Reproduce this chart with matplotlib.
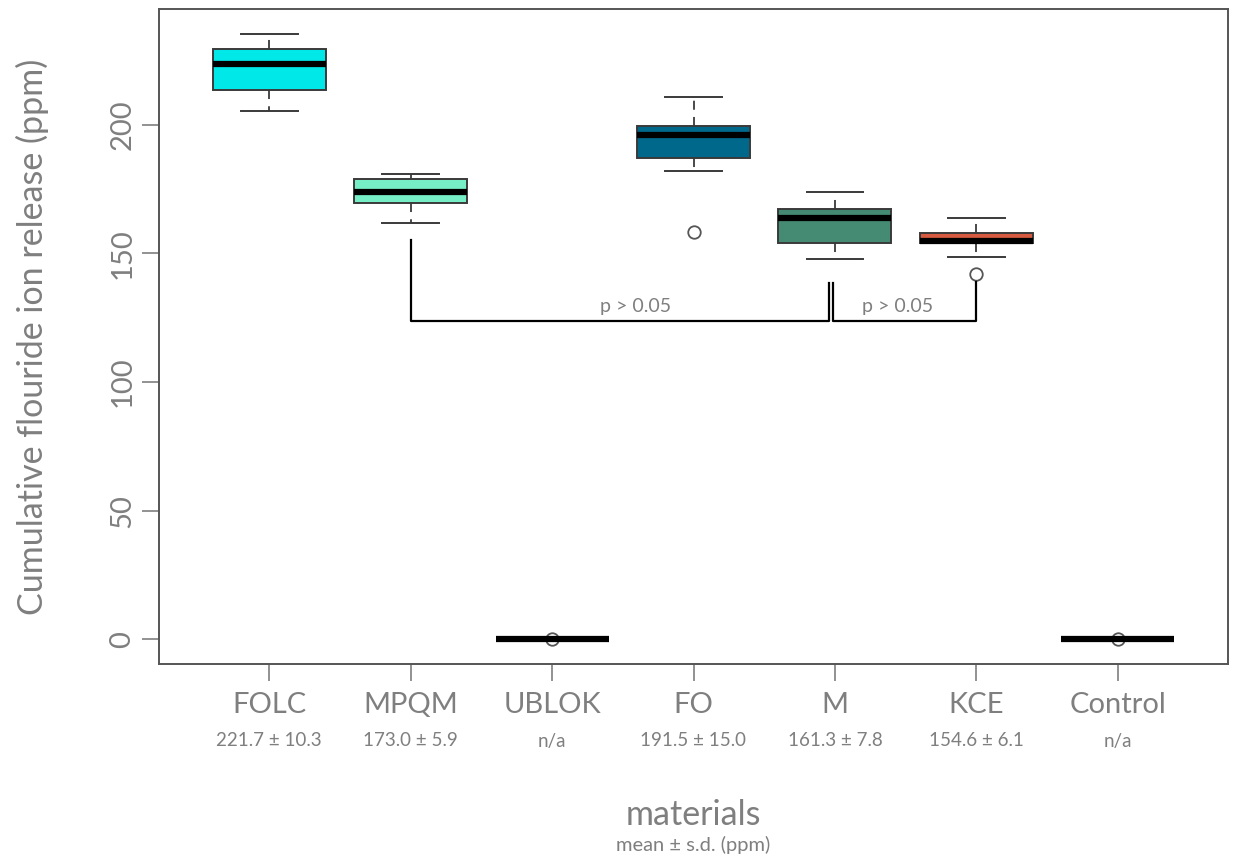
import matplotlib
matplotlib.use("Agg")
import matplotlib.pyplot as plt
import matplotlib.transforms as mtransforms

plt.rcParams['font.family'] = ['Lato', 'DejaVu Sans']

# ---- data ----
materials = ["FOLC", "MPQM", "UBLOK", "FO", "M", "KCE", "Control"]
summary = ["221.7 ± 10.3", "173.0 ± 5.9", "n/a", "191.5 ± 15.0", "161.3 ± 7.8", "154.6 ± 6.1", "n/a"]
medians = [223.6, 173.7, 0.0, 196.1, 163.8, 155.0, 0.0]
q1 = [213.6, 169.5, 0.0, 186.9, 154.0, 154.0, 0.0]
q3 = [229.6, 179.0, 0.0, 199.6, 167.2, 157.8, 0.0]
whisker_lo = [205.2, 161.7, 0.0, 182.1, 147.8, 148.5, 0.0]
whisker_hi = [235.4, 180.7, 0.0, 210.8, 173.7, 163.8, 0.0]
outliers = [[], [], [0.0], [158.2], [], [142.1], [0.3]]
colors = ["#00E8E8", "#76EEC6", "#FFFFFF", "#00688B", "#458B74", "#D65A40", "#FFFFFF"]
yticks = [0, 50, 100, 150, 200]
p_text = "p > 0.05"

gray = "#7F7F7F"
dark = "#3A3A3A"

fig = plt.figure(figsize=(12.34, 8.57), dpi=100)
ax = fig.add_axes([159/1234, 1 - 664/857, (1228-159)/1234, (664-9)/857])

positions = list(range(1, len(materials) + 1))
stats = []
for i in range(len(materials)):
    stats.append(dict(med=medians[i], q1=q1[i], q3=q3[i], whislo=whisker_lo[i],
                      whishi=whisker_hi[i], fliers=outliers[i], label=materials[i]))

bp = ax.bxp(stats, positions=positions, widths=0.8, patch_artist=True,
            showfliers=True,
            boxprops=dict(edgecolor=dark, linewidth=1.4),
            medianprops=dict(color="black", linewidth=4.5, solid_capstyle="butt"),
            whiskerprops=dict(color=dark, linewidth=1.3, linestyle=(0, (5, 4))),
            capprops=dict(color=dark, linewidth=1.4),
            capwidths=0.4,
            flierprops=dict(marker="o", markersize=9, markerfacecolor="white",
                            markeredgecolor="#555555", markeredgewidth=1.3))
for patch, c in zip(bp["boxes"], colors):
    patch.set_facecolor(c)

ax.set_xlim(0.22, 7.78)
ax.set_ylim(-9.6, 245)

# significance brackets
m_pos = positions[materials.index("M")]
mp_pos = positions[materials.index("MPQM")]
k_pos = positions[materials.index("KCE")]
br_y = 123.7
ax.plot([mp_pos, mp_pos, m_pos - 0.045, m_pos - 0.045], [155.3, br_y, br_y, 138.5],
        color="black", lw=1.6)
ax.plot([m_pos - 0.015, m_pos - 0.015, k_pos, k_pos], [138.5, br_y, br_y, 138.7],
        color="black", lw=1.6)
ax.text(3.59, 129.5, p_text, ha="center", va="center", fontsize=14, color=gray)
ax.text(5.44, 129.5, p_text, ha="center", va="center", fontsize=14, color=gray)

# axes styling
for s in ax.spines.values():
    s.set_color("#555555")
    s.set_linewidth(1.4)
ax.set_yticks(yticks)
ax.set_yticklabels([str(v) for v in yticks])
ax.tick_params(axis="y", length=12, width=1.2, color=gray, labelcolor=gray,
               labelsize=21, labelrotation=90, pad=5)
for lab in ax.get_yticklabels():
    lab.set_va("center")
ax.set_xticks(positions)
ax.set_xticklabels(materials)
ax.tick_params(axis="x", length=12, width=1.2, color=gray, labelcolor=gray,
               labelsize=21, pad=8)

trans = mtransforms.blended_transform_factory(ax.transData, ax.transAxes)
for p, s in zip(positions, summary):
    ax.annotate(s, xy=(p, 0), xycoords=trans, xytext=(0, -77 * 0.72),
                textcoords="offset points", ha="center", va="center",
                fontsize=13.5, color=gray)

ax.annotate("materials", xy=(0.5, 0), xycoords="axes fraction",
            xytext=(0, -151 * 0.72), textcoords="offset points",
            ha="center", va="center", fontsize=24.5, color=gray)
ax.annotate("mean ± s.d. (ppm)", xy=(0.5, 0), xycoords="axes fraction",
            xytext=(0, -181 * 0.72), textcoords="offset points",
            ha="center", va="center", fontsize=14.5, color=gray)
ax.set_ylabel("Cumulative flouride ion release (ppm)", fontsize=24.5, color=gray)
ax.yaxis.set_label_coords(-(159 - 49) / 1069, 0.5)

fig.savefig("out.png", dpi=100)
